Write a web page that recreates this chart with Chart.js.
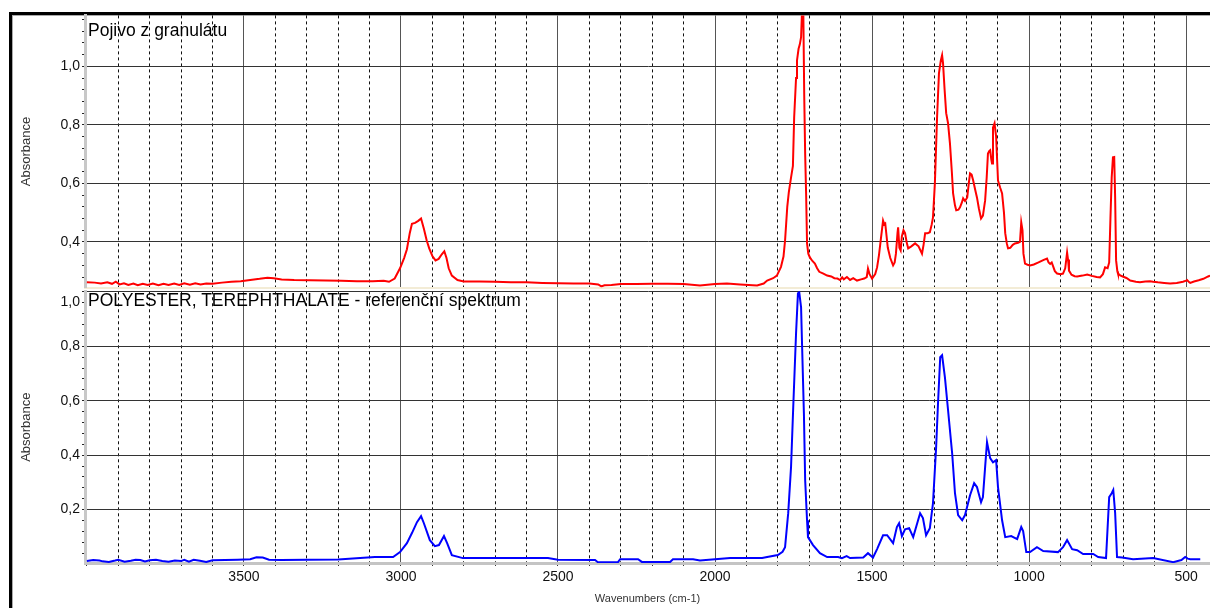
<!DOCTYPE html>
<html>
<head>
<meta charset="utf-8">
<script src="https://cdn.jsdelivr.net/npm/chart.js@4.4.1/dist/chart.umd.min.js"></script>
<style>
  html, body { margin: 0; padding: 0; background: #fff; overflow: hidden; }
  body { width: 1210px; height: 608px; position: relative; }
  canvas { position: absolute; }
  .frame { position: absolute; left: 9px; top: 12px; width: 1400px; height: 800px;
           border-left: 3px solid #000; border-top: 3px solid #000; }
  .frame2 { position: absolute; left: 12px; top: 15px; width: 1400px; height: 800px;
            border-left: 1px solid #aaa; border-top: 1px solid #aaa; }
  .ptitle { position: absolute; left: 88px; font-family: "Liberation Sans", Arial, sans-serif;
            font-size: 17.5px; line-height: 17.5px; color: #000; white-space: nowrap; }
</style>
</head>
<body>
<div class="frame"></div>
<div class="frame2"></div>
<canvas id="top"></canvas>
<canvas id="bot"></canvas>
<div class="ptitle" style="top:22px">Pojivo z granulátu</div>
<div class="ptitle" style="top:292px">POLYESTER, TEREPHTHALATE - referenční spektrum</div>
<script>
// ---- data (wavenumber cm-1 / absorbance) ----
const RED_WN = [4000,3975,3955,3935,3920,3908,3896,3882,3868,3852,3838,3822,3806,3790,3772,3756,3740,3722,3706,3690,3672,3655,3638,3620,3600,3570,3540,3510,3480,3450,3425,3405,3380,3340,3290,3240,3190,3140,3090,3055,3038,3020,3003,2990,2981,2972,2965,2955,2945,2936,2927,2918,2910,2900,2890,2880,2870,2862,2855,2848,2838,2820,2800,2750,2700,2650,2600,2550,2500,2450,2400,2372,2362,2352,2330,2300,2250,2200,2150,2100,2048,2000,1962,1920,1880,1866,1845,1834,1815,1803,1790,1782,1777,1770,1765,1758,1752,1748,1742,1739,1734,1730,1726,1723,1719,1716,1713,1710,1707,1703,1698,1690,1682,1675,1668,1655,1643,1630,1620,1610,1602,1595,1590,1580,1570,1560,1548,1535,1525,1517,1513,1508,1500,1490,1484,1478,1472,1465,1461,1458,1450,1442,1433,1428,1424,1419,1417,1413,1409,1405,1400,1395,1390,1385,1375,1363,1352,1341,1336,1331,1323,1316,1310,1306,1300,1293,1287,1281,1277,1274,1269,1264,1258,1252,1246,1242,1236,1232,1225,1220,1214,1210,1204,1197,1192,1188,1183,1178,1172,1166,1160,1153,1147,1140,1135,1131,1127,1124,1120,1118,1115,1110,1105,1099,1092,1086,1080,1076,1071,1067,1060,1052,1045,1035,1029,1025,1021,1018,1013,1005,997,985,970,955,943,938,933,928,924,918,911,900,892,885,879,876,873,865,855,847,830,815,800,785,774,765,758,750,745,741,737,733,729,726,723,719,717,710,700,690,678,660,647,630,615,605,590,570,551,530,510,500,497,490,487,475,460,445,430,424];
const RED_ABS = [0.262,0.261,0.258,0.262,0.257,0.264,0.255,0.259,0.253,0.258,0.252,0.257,0.253,0.258,0.252,0.257,0.253,0.258,0.253,0.259,0.254,0.259,0.255,0.258,0.257,0.261,0.264,0.266,0.270,0.274,0.278,0.276,0.272,0.270,0.269,0.268,0.267,0.266,0.266,0.267,0.264,0.275,0.310,0.345,0.375,0.430,0.462,0.465,0.472,0.480,0.445,0.405,0.378,0.352,0.337,0.342,0.358,0.368,0.345,0.310,0.285,0.270,0.265,0.265,0.264,0.262,0.262,0.260,0.259,0.258,0.258,0.255,0.248,0.252,0.253,0.256,0.256,0.257,0.257,0.256,0.251,0.256,0.258,0.255,0.252,0.251,0.258,0.268,0.276,0.285,0.315,0.350,0.405,0.520,0.570,0.620,0.660,0.826,0.960,1.020,1.060,1.075,1.100,1.190,1.200,0.900,0.700,0.566,0.395,0.360,0.347,0.335,0.326,0.310,0.298,0.292,0.285,0.282,0.276,0.275,0.270,0.279,0.272,0.280,0.270,0.276,0.268,0.272,0.275,0.280,0.309,0.290,0.275,0.290,0.313,0.355,0.410,0.473,0.460,0.463,0.381,0.345,0.320,0.330,0.360,0.430,0.450,0.380,0.371,0.420,0.440,0.430,0.400,0.378,0.385,0.395,0.385,0.360,0.390,0.430,0.430,0.433,0.460,0.484,0.600,0.826,0.976,1.020,1.038,1.010,0.920,0.840,0.805,0.737,0.640,0.566,0.525,0.508,0.510,0.518,0.535,0.549,0.540,0.552,0.600,0.634,0.630,0.610,0.580,0.552,0.515,0.480,0.490,0.542,0.620,0.702,0.710,0.713,0.680,0.668,0.790,0.805,0.760,0.610,0.585,0.566,0.500,0.430,0.395,0.378,0.380,0.390,0.395,0.397,0.400,0.467,0.440,0.360,0.326,0.322,0.320,0.323,0.330,0.338,0.343,0.330,0.325,0.330,0.318,0.300,0.292,0.290,0.292,0.310,0.364,0.340,0.302,0.288,0.283,0.282,0.285,0.289,0.284,0.280,0.279,0.290,0.313,0.310,0.330,0.480,0.620,0.689,0.690,0.550,0.337,0.300,0.292,0.286,0.281,0.277,0.268,0.264,0.262,0.265,0.266,0.264,0.262,0.260,0.258,0.260,0.264,0.268,0.270,0.262,0.260,0.265,0.269,0.274,0.282,0.285];

const BLUE_WN = [4000,3980,3960,3950,3930,3910,3900,3880,3860,3845,3830,3815,3800,3780,3760,3740,3720,3700,3690,3675,3660,3640,3620,3600,3560,3520,3480,3460,3440,3420,3380,3300,3200,3130,3083,3025,3003,2981,2965,2949,2936,2927,2908,2892,2879,2863,2853,2838,2803,2532,2500,2382,2373,2309,2302,2245,2233,2143,2134,2070,2048,1952,1850,1834,1800,1785,1777,1767,1758,1751,1742,1736,1732,1726,1723,1717,1713,1707,1704,1688,1666,1643,1608,1596,1581,1570,1528,1513,1497,1484,1465,1452,1433,1421,1414,1405,1395,1382,1369,1347,1338,1328,1316,1306,1296,1290,1283,1277,1268,1258,1245,1236,1226,1213,1204,1188,1175,1166,1153,1147,1140,1134,1124,1115,1105,1099,1086,1076,1057,1038,1025,1019,1009,997,975,955,908,892,879,863,847,828,796,780,755,745,737,732,726,720,704,669,605,541,515,503,495,487,455];
const BLUE_ABS = [0.011,0.015,0.013,0.010,0.008,0.013,0.016,0.009,0.012,0.016,0.015,0.010,0.014,0.016,0.011,0.009,0.013,0.011,0.016,0.009,0.016,0.012,0.008,0.014,0.015,0.016,0.018,0.025,0.024,0.016,0.015,0.016,0.017,0.022,0.026,0.026,0.044,0.077,0.114,0.154,0.176,0.150,0.088,0.066,0.070,0.103,0.077,0.033,0.022,0.022,0.016,0.015,0.007,0.007,0.018,0.018,0.008,0.008,0.018,0.018,0.013,0.022,0.022,0.026,0.033,0.045,0.062,0.187,0.356,0.576,0.848,0.994,1.000,0.943,0.811,0.554,0.308,0.161,0.099,0.070,0.040,0.026,0.026,0.022,0.029,0.022,0.024,0.040,0.024,0.055,0.106,0.106,0.077,0.136,0.150,0.103,0.128,0.132,0.099,0.187,0.169,0.106,0.132,0.224,0.429,0.591,0.760,0.767,0.686,0.565,0.407,0.261,0.180,0.161,0.180,0.253,0.297,0.283,0.227,0.246,0.356,0.448,0.389,0.374,0.382,0.283,0.161,0.099,0.103,0.092,0.136,0.121,0.044,0.044,0.062,0.048,0.044,0.062,0.088,0.055,0.051,0.037,0.037,0.026,0.022,0.246,0.260,0.272,0.187,0.026,0.024,0.018,0.022,0.007,0.015,0.026,0.020,0.018,0.018];

const X_LABELS = [3500, 3000, 2500, 2000, 1500, 1000, 500];
const X_RANGE = [424, 4006];
const TOP_Y_RANGE = [0.244, 1.174];
const BOT_Y_RANGE = [0.004, 1.002];

Chart.defaults.font.family = '"Liberation Sans", Arial, sans-serif';
Chart.defaults.color = '#111';

function pts(wn, a) { return wn.map((w, i) => ({ x: w, y: a[i] })); }

function xScale(showLabels) {
  return {
    type: 'linear', reverse: true, min: X_RANGE[0], max: X_RANGE[1],
    afterBuildTicks: (s) => {
      const t = [];
      for (let v = 500; v <= 4000; v += 100) if (v >= s.min && v <= s.max) t.push({ value: v });
      s.ticks = t;
    },
    afterFit: (s) => { s.height = showLabels ? 45 : 0; },
    grid: {
      color: (c) => (c.tick && X_LABELS.includes(c.tick.value)) ? '#555' : '#111',
      lineWidth: 1,
      drawTicks: showLabels, tickLength: 3, tickColor: '#333'
    },
    border: {
      display: true, width: showLabels ? 3 : 2, color: showLabels ? '#c4c4c4' : '#f3ecd6',
      dash: (c) => (c.tick && !X_LABELS.includes(c.tick.value)) ? [3, 3] : []
    },
    ticks: {
      display: showLabels, autoSkip: false, maxRotation: 0, padding: 3,
      font: { size: 14 }, color: '#111',
      callback: (v) => X_LABELS.includes(v) ? String(v) : ''
    },
    title: {
      display: showLabels, text: 'Wavenumbers (cm-1)', font: { size: 11 }, color: '#333',
      padding: { top: 0, bottom: 2 }
    }
  };
}

function yScale(range, kFrom, kTo, raiseTop) {
  return {
    type: 'linear', min: range[0], max: range[1],
    afterBuildTicks: (s) => {
      const t = [];
      for (let k = kFrom; k <= kTo; k++) t.push({ value: Math.round(k * 4) / 100 });
      s.ticks = t;
    },
    afterFit: (s) => { s.width = 73; },
    grid: {
      color: (c) => (c.tick && Math.round(c.tick.value * 100) % 20 === 0) ? '#333' : 'rgba(0,0,0,0)',
      lineWidth: 1, drawTicks: true, tickLength: 3, tickColor: '#222'
    },
    border: { display: true, width: 3, color: '#c8c8c8' },
    ticks: {
      autoSkip: false, padding: 2, font: { size: 14, lineHeight: raiseTop ? 1.45 : 1.2 }, color: '#111',
      callback: (v) => {
        const k = Math.round(v * 100);
        if (k % 20 !== 0) return '';
        const lbl = (v).toFixed(1).replace('.', ',');
        return (raiseTop && k === 100) ? ['', lbl] : lbl;
      }
    },
    title: {
      display: true, text: 'Absorbance', font: { size: 13 }, color: '#333',
      padding: { top: 7, bottom: 0 }
    }
  };
}

function cfg(wn, ab, color, yRange, kFrom, kTo, showX, raiseTop) {
  return {
    type: 'line',
    data: { datasets: [{ data: pts(wn, ab), borderColor: color, borderWidth: 2,
      pointRadius: 0, tension: 0, fill: false }] },
    options: {
      responsive: false, animation: false, events: [],
      layout: { padding: 0 },
      plugins: { legend: { display: false }, tooltip: { enabled: false }, title: { display: false } },
      scales: { x: xScale(showX), y: yScale(yRange, kFrom, kTo, raiseTop) }
    }
  };
}

function place(id, make, target) {
  const cv = document.getElementById(id);
  cv.width = 1400; cv.height = 500;
  let ch = new Chart(cv, make());
  const ca = ch.chartArea;
  const padL = ca.left, padT = ca.top, padR = ch.width - ca.right, padB = ch.height - ca.bottom;
  ch.destroy();
  const W = Math.round(target.right - target.left + padL + padR);
  const H = Math.round(target.bottom - target.top + padT + padB);
  cv.width = W; cv.height = H;
  cv.style.width = W + 'px'; cv.style.height = H + 'px';
  cv.style.left = Math.round(target.left - padL) + 'px';
  cv.style.top = Math.round(target.top - padT) + 'px';
  return new Chart(cv, make());
}

place('top', () => cfg(RED_WN, RED_ABS, '#ff0000', TOP_Y_RANGE, 7, 29, false, false),
      { left: 85, top: 15, right: 1210, bottom: 287 });
place('bot', () => cfg(BLUE_WN, BLUE_ABS, '#0000ff', BOT_Y_RANGE, 1, 25, true, true),
      { left: 85, top: 291, right: 1210, bottom: 563 });
</script>
</body>
</html>
